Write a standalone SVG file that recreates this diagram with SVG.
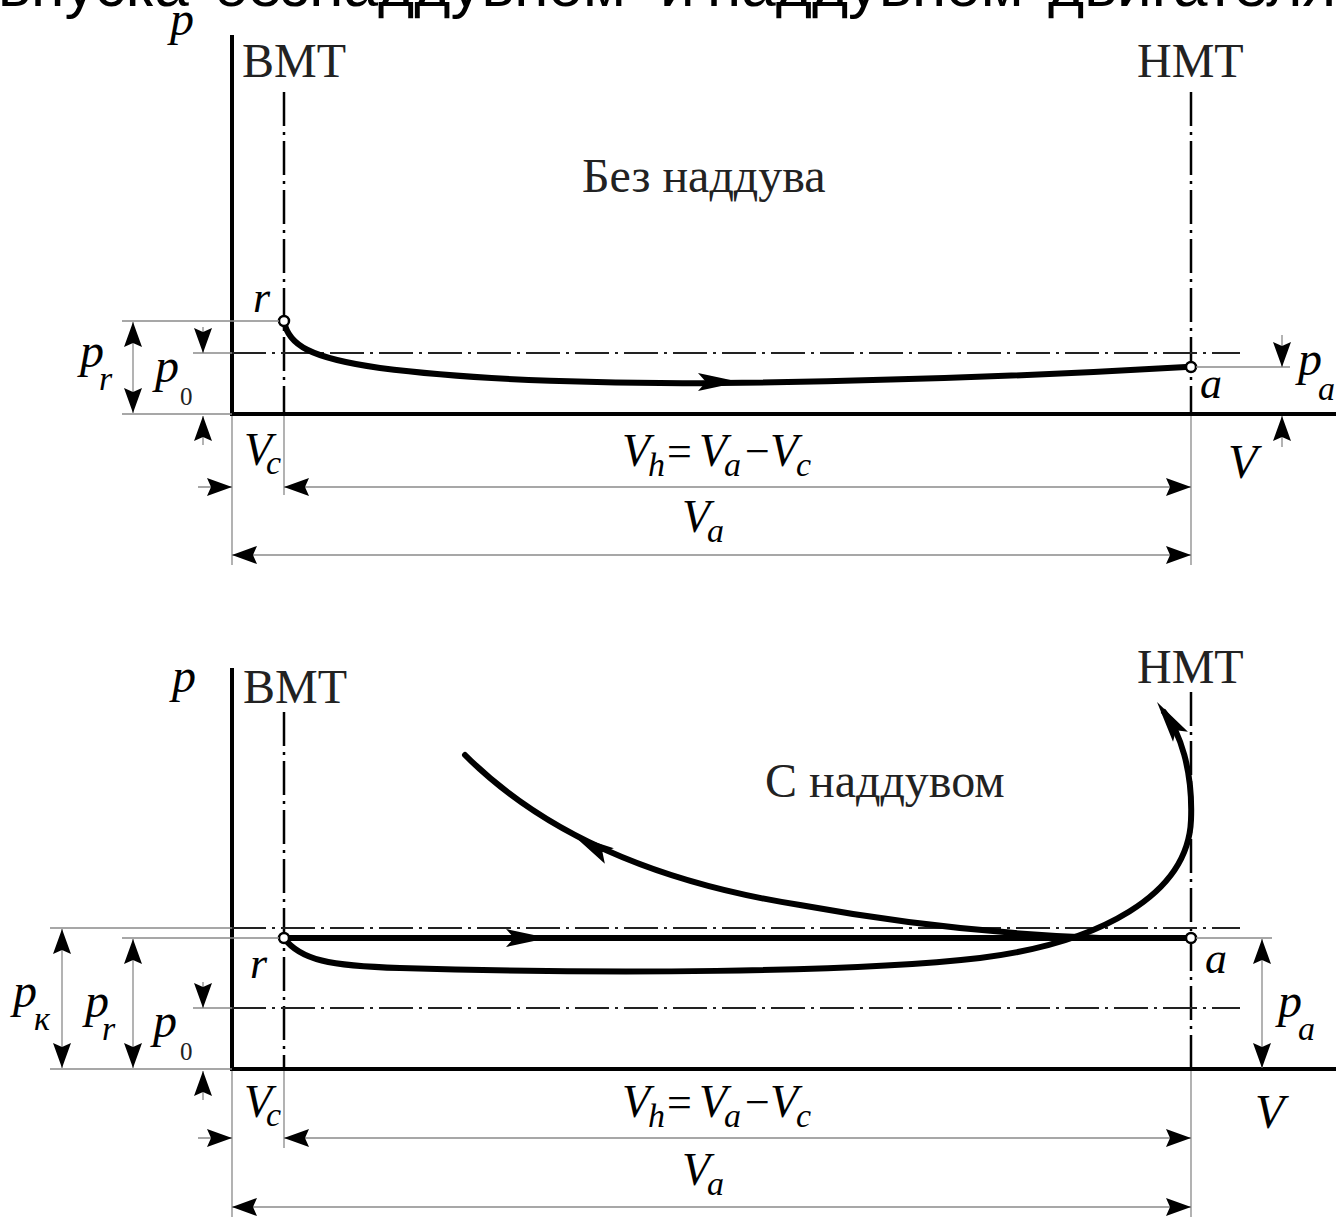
<svg xmlns="http://www.w3.org/2000/svg" width="1336" height="1217" viewBox="0 0 1336 1217">
<defs>
<style>
.ax{stroke:#000;stroke-width:4;fill:none}
.dd{stroke:#000;stroke-width:2.5;stroke-dasharray:34 6 3 6;fill:none}
.ddh{stroke:#222;stroke-width:1.8;stroke-dasharray:34 6 3 6;fill:none}
.thin{stroke:#8a8a8a;stroke-width:1.3;fill:none}
.dim{stroke:#8a8a8a;stroke-width:1.3;fill:none;marker-end:url(#ah)}
.dim2{stroke:#8a8a8a;stroke-width:1.3;fill:none;marker-start:url(#ah);marker-end:url(#ah)}
.cv{stroke:#000;stroke-width:6;fill:none;stroke-linecap:round}
.pt{fill:#fff;stroke:#000;stroke-width:2.5}
.ah2{fill:#000}
.it{font-family:"Liberation Serif",serif;font-style:italic;fill:#000}
.rm{font-family:"Liberation Serif",serif;fill:#222}
.hd{font-family:"Liberation Sans",Arial,sans-serif;font-size:62px;fill:#000}
</style>
<marker id="ah" viewBox="0 0 25 20" refX="25" refY="10" markerWidth="25" markerHeight="20" markerUnits="userSpaceOnUse" orient="auto-start-reverse">
<path d="M0,1 L25,10 L0,19 L4,10 Z" fill="#000"/>
</marker>
<path id="big" d="M0,0 L-42,-9 L-34,0 L-42,9 Z"/>
</defs>

<g id="heading">
<text class="hd" x="-2" y="6">впуска</text>
<text class="hd" x="213" y="6">безнаддувном</text>
<text class="hd" x="660" y="6">и</text>
<text class="hd" x="707" y="6">наддувном</text>
<text class="hd" x="1048" y="6">двигателях</text>
</g>

<!-- ===== TOP DIAGRAM ===== -->
<g id="top-axes">
<path class="ax" d="M232,35 V415 M230,414 H1336"/>
<text class="it" x="170" y="35" font-size="48">p</text>
</g>
<g id="top-bmt">
<path class="dd" d="M284,92 V414"/>
<text class="rm" x="242" y="77" font-size="48">ВМТ</text>
</g>
<g id="top-hmt">
<path class="dd" d="M1191,92 V414"/>
<text class="rm" x="1137" y="77" font-size="48">НМТ</text>
</g>
<g id="top-p0line">
<path class="thin" d="M193,353 H232"/>
<path class="ddh" d="M232,353 H1240"/>
</g>
<g id="top-title">
<text class="rm" x="582" y="192" font-size="48">Без наддува</text>
</g>

<g id="top-connectors">
<path class="cv" d="M284,321 C288,345 310,358 380,368 C480,381 620,384 720,383 C900,381 1050,375 1186,367"/>
<use href="#big" class="ah2" transform="translate(740,382)"/>
</g>
<g id="top-r">
<circle class="pt" cx="284" cy="321" r="5"/>
<text class="it" x="253" y="312" font-size="44">r</text>
</g>
<g id="top-a">
<circle class="pt" cx="1191" cy="367" r="5"/>
<text class="it" x="1200" y="398" font-size="44">a</text>
</g>

<g id="top-dims">
<path class="thin" d="M122,321 H279 M122,414 H232 M1196,367 H1290 M232,416 V565 M284,416 V495 M1191,416 V565"/>
<path class="dim2" d="M133,322 V413"/>
<path class="dim" d="M203,327 V353"/>
<path class="dim" d="M203,445 V416"/>
<path class="dim" d="M1282,335 V367"/>
<path class="dim" d="M1282,447 V416"/>
<path class="dim" d="M198,487 H232"/>
<path class="dim2" d="M284,487 H1191"/>
<path class="dim2" d="M232,555 H1191"/>
</g>
<g id="top-labels">
<text class="it" x="80" y="367" font-size="48">p</text>
<text class="it" x="99" y="390" font-size="34">r</text>
<text class="it" x="155" y="382" font-size="48">p</text>
<text class="rm" x="180" y="405" font-size="25">0</text>
<text class="it" x="1298" y="375" font-size="48">p</text>
<text class="it" x="1318" y="400" font-size="34">a</text>
<text class="it" x="1228" y="478" font-size="48">V</text>
<text class="it" font-size="46"><tspan x="244" y="465">V</tspan><tspan font-size="34" x="266" y="474">c</tspan></text>
<text class="it" font-size="46"><tspan x="622" y="466">V</tspan><tspan font-size="34" x="648" y="476">h</tspan><tspan font-style="normal" font-size="44" x="667" y="466">=</tspan><tspan x="699" y="466">V</tspan><tspan font-size="34" x="724" y="476">a</tspan><tspan font-style="normal" font-size="44" x="745" y="466">−</tspan><tspan x="770" y="466">V</tspan><tspan font-size="34" x="796" y="476">c</tspan></text>
<text class="it" font-size="46"><tspan x="682" y="532">V</tspan><tspan font-size="34" x="707" y="542">a</tspan></text>
</g>

<!-- ===== BOTTOM DIAGRAM ===== -->
<g id="bot-axes">
<path class="ax" d="M232,668 V1071 M230,1069 H1336"/>
<text class="it" x="172" y="692" font-size="48">p</text>
</g>
<g id="bot-bmt">
<path class="dd" d="M284,712 V1069"/>
<text class="rm" x="243" y="703" font-size="48">ВМТ</text>
</g>
<g id="bot-hmt">
<path class="dd" d="M1191,692 V1069"/>
<text class="rm" x="1137" y="683" font-size="48">НМТ</text>
</g>
<g id="bot-lines">
<path class="thin" d="M50,928 H232 M193,1008 H232"/>
<path class="ddh" d="M232,928 H1240"/>
<path class="ddh" d="M232,1008 H1240"/>
</g>
<g id="bot-title">
<text class="rm" x="765" y="797" font-size="48">С наддувом</text>
</g>

<g id="bot-connectors">
<path class="cv" d="M289,938 H1186"/>
<use href="#big" class="ah2" transform="translate(548,938)"/>
<path class="cv" d="M284,938 C300,960 330,966 400,968 C600,974 850,973 980,958 C1100,943 1188,895 1191,820 C1193,770 1180,732 1164,712"/>
<use href="#big" class="ah2" transform="translate(1157,702) rotate(236)"/>
<path class="cv" d="M465,755 C535,825 640,880 800,905 C920,927 1020,935 1100,938"/>
<use href="#big" class="ah2" transform="translate(573,835) rotate(210)"/>
</g>
<g id="bot-r">
<circle class="pt" cx="284" cy="938" r="5"/>
<text class="it" x="250" y="978" font-size="44">r</text>
</g>
<g id="bot-a">
<circle class="pt" cx="1191" cy="938" r="5"/>
<text class="it" x="1205" y="973" font-size="44">a</text>
</g>

<g id="bot-dims">
<path class="thin" d="M122,938 H279 M50,1069 H232 M1196,938 H1272 M232,1071 V1217 M284,1071 V1148 M1191,1071 V1217"/>
<path class="dim2" d="M62,929 V1068"/>
<path class="dim2" d="M133,939 V1068"/>
<path class="dim" d="M203,982 V1008"/>
<path class="dim" d="M203,1100 V1071"/>
<path class="dim2" d="M1262,939 V1068"/>
<path class="dim" d="M198,1138 H232"/>
<path class="dim2" d="M284,1138 H1191"/>
<path class="dim2" d="M232,1207 H1191"/>
</g>
<g id="bot-labels">
<text class="it" x="13" y="1007" font-size="48">p</text>
<text class="it" x="34" y="1030" font-size="34">к</text>
<text class="it" x="85" y="1017" font-size="48">p</text>
<text class="it" x="102" y="1040" font-size="34">r</text>
<text class="it" x="153" y="1037" font-size="48">p</text>
<text class="rm" x="180" y="1060" font-size="25">0</text>
<text class="it" x="1278" y="1017" font-size="48">p</text>
<text class="it" x="1298" y="1040" font-size="34">a</text>
<text class="it" x="1255" y="1128" font-size="48">V</text>
<text class="it" font-size="46"><tspan x="244" y="1117">V</tspan><tspan font-size="34" x="266" y="1126">c</tspan></text>
<text class="it" font-size="46"><tspan x="622" y="1117">V</tspan><tspan font-size="34" x="648" y="1127">h</tspan><tspan font-style="normal" font-size="44" x="667" y="1117">=</tspan><tspan x="699" y="1117">V</tspan><tspan font-size="34" x="724" y="1127">a</tspan><tspan font-style="normal" font-size="44" x="745" y="1117">−</tspan><tspan x="770" y="1117">V</tspan><tspan font-size="34" x="796" y="1127">c</tspan></text>
<text class="it" font-size="46"><tspan x="682" y="1185">V</tspan><tspan font-size="34" x="707" y="1195">a</tspan></text>
</g>
</svg>
